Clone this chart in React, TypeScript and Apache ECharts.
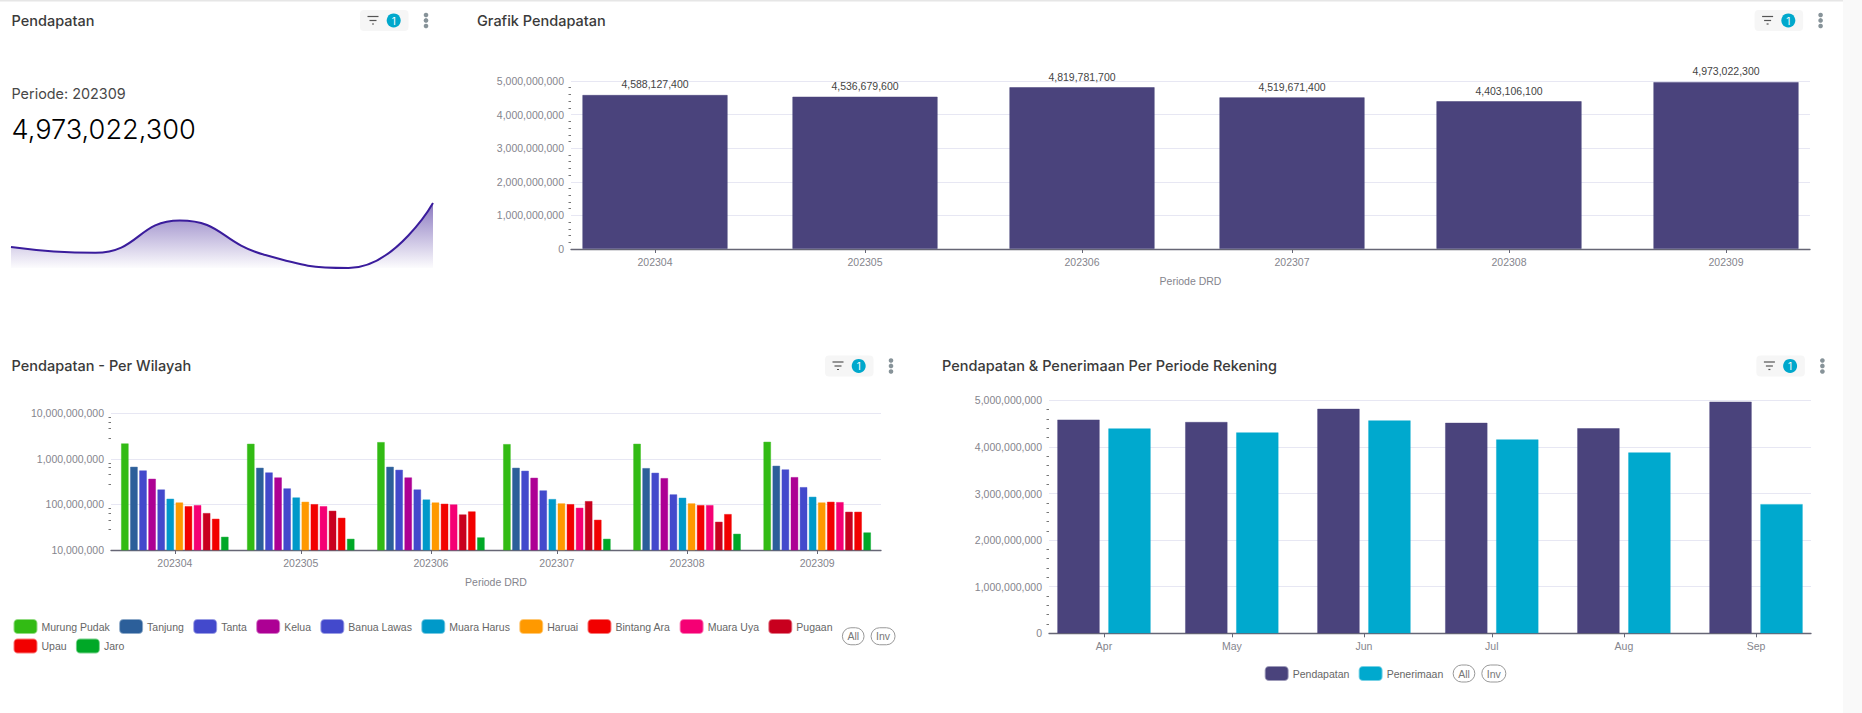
import React, { useEffect, useRef } from "react";
import * as echarts from "echarts";

const periods = ["202304", "202305", "202306", "202307", "202308", "202309"];
const months = ["Apr", "May", "Jun", "Jul", "Aug", "Sep"];
const dates = ["2023-04-01", "2023-05-01", "2023-06-01", "2023-07-01", "2023-08-01", "2023-09-01"];
const pendapatan = [4588127400, 4536679600, 4819781700, 4519671400, 4403106100, 4973022300];
const penerimaan = [4399000000, 4313000000, 4571000000, 4163000000, 3884000000, 2775000000];

const regions = ["Murung Pudak", "Tanjung", "Tanta", "Kelua", "Banua Lawas", "Muara Harus", "Haruai", "Bintang Ara", "Muara Uya", "Pugaan", "Upau", "Jaro"];
const regionColors = ["#32BB14", "#2C5F9A", "#4349CC", "#AD0094", "#4349CC", "#0099C9", "#FF9900", "#F20000", "#F50074", "#C8001E", "#F20000", "#00A827"];
const murungPudak = [2192e6, 2156e6, 2345e6, 2120e6, 2156e6, 2385e6];
const tanjung = [674e6, 641e6, 674e6, 641e6, 630e6, 709e6];
const tanta = [560e6, 506e6, 579e6, 551e6, 498e6, 589e6];
const kelua = [368e6, 393e6, 393e6, 387e6, 380e6, 400e6];
const banuaLawas = [214e6, 226e6, 214e6, 204e6, 167e6, 241e6];
const muaraHarus = [134e6, 143e6, 129e6, 132e6, 141e6, 148e6];
const haruai = [111e6, 115e6, 111e6, 106e6, 106e6, 111e6];
const bintangAra = [92e6, 102e6, 104e6, 102e6, 97e6, 115e6];
const muaraUya = [97e6, 92e6, 100.5e6, 85e6, 97e6, 113e6];
const pugaan = [65e6, 73e6, 60.6e6, 119e6, 41.9e6, 69.4e6];
const upau = [48.7e6, 51.2e6, 70.6e6, 46.3e6, 61.7e6, 69.4e6];
const jaro = [19.6e6, 17.7e6, 19e6, 17.7e6, 22.8e6, 24.4e6];
const regionValues = [murungPudak, tanjung, tanta, kelua, banuaLawas, muaraHarus, haruai, bintangAra, muaraUya, pugaan, upau, jaro];

const W = 1862;
const H = 713;
const DAY = 86400000;
const PURPLE = "#4A437C";
const CYAN = "#00A9CE";
const FONT = "'Liberation Sans', Arial, sans-serif";
const TITLE_FONT = "Inter, sans-serif";
const AXIS_TEXT = "#85858D";
const SMALL = 10.5;
const ms = dates.map((d) => Date.parse(d + "T00:00:00Z"));
const fmt = (v: number) => v.toLocaleString("en-US");
const lighten = (c: string) => c + "88";

function timeAxis(gridIndex: number, padDays: number, labels: string[], name?: string) {
  return {
    type: "value",
    scale: true,
    gridIndex,
    min: ms[0] - padDays * DAY,
    max: ms[5] + padDays * DAY,
    splitLine: { show: false },
    axisLine: { show: true, lineStyle: { color: "#666675", width: 1.3 } },
    axisTick: { show: true, customValues: ms, length: 4, lineStyle: { color: "#666675" } },
    axisLabel: {
      customValues: ms,
      hideOverlap: false,
      showMinLabel: true,
      showMaxLabel: true,
      formatter: (v: number) => labels[ms.indexOf(v)] ?? "",
      color: AXIS_TEXT,
      fontFamily: FONT,
      fontSize: SMALL,
      fontWeight: "normal",
      margin: 7,
    },
    ...(name
      ? { name, nameLocation: "middle", nameGap: 26, nameTextStyle: { color: AXIS_TEXT, fontFamily: FONT, fontSize: SMALL } }
      : {}),
  };
}

function valueAxis(gridIndex: number, type: string, extra: object) {
  return {
    type,
    gridIndex,
    axisLine: { show: false },
    axisTick: { show: false },
    minorTick: { show: true, splitNumber: 5, length: 2.5, lineStyle: { color: "#777" } },
    minorSplitLine: { show: false },
    splitLine: { show: true, lineStyle: { color: "#E7E7F3", width: 1.2 } },
    axisLabel: { formatter: (v: number) => fmt(v), color: AXIS_TEXT, fontFamily: FONT, fontSize: SMALL, margin: 7 },
    ...extra,
  };
}

const selectorStyle = {
  selector: [
    { type: "all", title: "All" },
    { type: "inverse", title: "Inv" },
  ],
  selectorLabel: { fontSize: SMALL, fontFamily: FONT, color: "#777", borderColor: "#999", borderWidth: 1, borderRadius: 10, padding: [3, 5, 3, 5] },
  selectorItemGap: 6,
  selectorButtonGap: 4.6,
  selectorPosition: "end",
  itemWidth: 22,
  itemHeight: 13,
  itemGap: 4.5,
  padding: 0,
  textStyle: { color: "#666", fontFamily: FONT, fontSize: SMALL, lineHeight: 12, padding: [0, 4.8, 0, 0] },
};

function toolbar(dx: number, dy: number) {
  const line = (y: number, half: number) => ({
    type: "line",
    shape: { x1: 373 + dx - half, y1: y + dy, x2: 373 + dx + half, y2: y + dy },
    style: { stroke: "#555", lineWidth: 1.2 },
  });
  const dot = (y: number) => ({ type: "circle", shape: { cx: 426 + dx, cy: y + dy, r: 2.3 }, style: { fill: "#879399" } });
  return [
    { type: "rect", shape: { x: 360 + dx, y: 10 + dy, width: 48.5, height: 21, r: 4 }, style: { fill: "#F6F6F6" } },
    line(16.5, 5.5),
    line(20.5, 3.5),
    line(24, 1),
    { type: "circle", shape: { cx: 393.7 + dx, cy: 20.4 + dy, r: 7 }, style: { fill: "#00A8CC" } },
    {
      type: "text",
      x: 393.7 + dx,
      y: 20.8 + dy,
      style: { text: "1", fill: "#fff", fontFamily: TITLE_FONT, fontSize: 10, align: "center", verticalAlign: "middle" },
    },
    dot(15),
    dot(20.4),
    dot(26),
  ];
}

function label(text: string, x: number, y: number, fontSize: number, fontWeight: any, fill: string) {
  return { type: "text", x, y, style: { text, fill, fontFamily: TITLE_FONT, fontSize, fontWeight, align: "left", verticalAlign: "middle" } };
}

function buildOption() {
  return {
    animation: false,
    backgroundColor: "#fff",
    grid: [
      { left: 11, width: 422, top: 203, height: 65 },
      { left: 571, width: 1239, top: 81, height: 168 },
      { left: 111, width: 770, top: 413.3, height: 136.7 },
      { left: 1049, width: 762, top: 400.3, height: 233 },
    ],
    xAxis: [
      { type: "category", gridIndex: 0, data: periods, boundaryGap: false, show: false },
      timeAxis(1, 12, periods, "Periode DRD"),
      timeAxis(2, 15.2, periods, "Periode DRD"),
      timeAxis(3, 12.9, months),
    ],
    yAxis: [
      { type: "value", gridIndex: 0, min: 4403106100, max: 4973022300, show: false },
      valueAxis(1, "value", { min: 0, max: 5000000000, interval: 1000000000 }),
      valueAxis(2, "log", { min: 10000000, max: 10000000000, logBase: 10 }),
      valueAxis(3, "value", { min: 0, max: 5000000000, interval: 1000000000 }),
    ],
    legend: [
      {
        ...selectorStyle,
        left: 13.5,
        top: 619,
        width: 840,
        data: regions,
      },
      {
        ...selectorStyle,
        left: 1264.7,
        top: 664.5,
        data: ["Pendapatan", "Penerimaan"],
      },
    ],
    series: [
      {
        type: "line",
        xAxisIndex: 0,
        yAxisIndex: 0,
        data: pendapatan,
        smooth: 0.5,
        symbol: "none",
        clip: false,
        lineStyle: { color: "#3A1C9C", width: 2 },
        areaStyle: {
          origin: "start",
          color: new echarts.graphic.LinearGradient(0, 0, 0, 1, [
            { offset: 0, color: "rgba(60,30,150,0.85)" },
            { offset: 1, color: "rgba(60,30,150,0.02)" },
          ]),
        },
      },
      {
        type: "bar",
        name: "Grafik Pendapatan",
        xAxisIndex: 1,
        yAxisIndex: 1,
        barWidth: 145.5,
        data: pendapatan.map((v, i) => [ms[i], v]),
        itemStyle: { color: PURPLE, borderColor: lighten(PURPLE), borderWidth: 1 },
        label: { show: true, position: "top", distance: 5, formatter: (p: any) => fmt(p.value[1]), color: "#444", fontFamily: FONT, fontSize: SMALL },
      },
      ...regions.map((name, s) => ({
        type: "bar",
        name,
        xAxisIndex: 2,
        yAxisIndex: 2,
        barWidth: 7.7,
        barGap: "18%",
        data: regionValues[s].map((v, i) => [ms[i], v]),
        itemStyle: { color: regionColors[s], borderColor: lighten(regionColors[s]), borderWidth: 0.8 },
      })),
      {
        type: "bar",
        name: "Pendapatan",
        xAxisIndex: 3,
        yAxisIndex: 3,
        barWidth: 42.5,
        barGap: "20%",
        data: pendapatan.map((v, i) => [ms[i], v]),
        itemStyle: { color: PURPLE, borderColor: lighten(PURPLE), borderWidth: 0.8 },
      },
      {
        type: "bar",
        name: "Penerimaan",
        xAxisIndex: 3,
        yAxisIndex: 3,
        barWidth: 42.5,
        barGap: "20%",
        data: penerimaan.map((v, i) => [ms[i], v]),
        itemStyle: { color: CYAN, borderColor: lighten(CYAN), borderWidth: 0.8 },
      },
    ],
    graphic: [
      { type: "rect", shape: { x: 1843, y: 0, width: 19, height: H }, style: { fill: "#F9F9F9" } },
      { type: "rect", shape: { x: 0, y: 0, width: 1843, height: 1.5 }, style: { fill: "#E6E6E6" } },
      label("Pendapatan", 11.5, 20.5, 14.5, 500, "#3A3A3A"),
      label("Periode: 202309", 11.5, 93.5, 14.4, 400, "#484848"),
      label("4,973,022,300", 11.5, 129, 27.2, 300, "#000"),
      label("Grafik Pendapatan", 477, 20.5, 14.5, 500, "#3A3A3A"),
      label("Pendapatan - Per Wilayah", 11.5, 365.5, 14.5, 500, "#3A3A3A"),
      label("Pendapatan & Penerimaan Per Periode Rekening", 942, 365.5, 14.5, 500, "#3A3A3A"),
      ...toolbar(0, 0),
      ...toolbar(1394.6, 0),
      ...toolbar(465, 345.5),
      ...toolbar(1396.4, 345.5),
    ],
  };
}

export default function App() {
  const ref = useRef<HTMLDivElement>(null);
  useEffect(() => {
    document.body.style.margin = "0";
    document.body.style.overflow = "hidden";
    const chart = echarts.init(ref.current!, undefined, { renderer: "svg", width: W, height: H });
    chart.setOption(buildOption() as any);
    return () => chart.dispose();
  }, []);
  return <div ref={ref} style={{ width: W, height: H }} />;
}
